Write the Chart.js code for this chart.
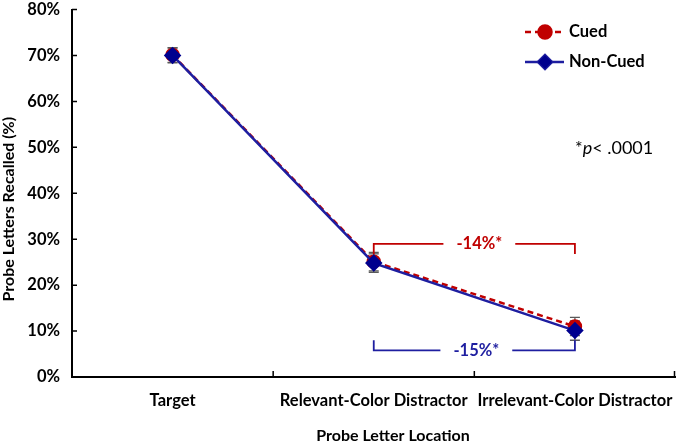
<!DOCTYPE html>
<html lang="en">
<head>
    <meta charset="UTF-8">
    <title>Probe Letters Recalled</title>
    <script src="https://cdn.jsdelivr.net/npm/chart.js"></script>
    <style>
        html, body { margin: 0; padding: 0; background: #fff; overflow: hidden; }
        canvas { display: block; }
    </style>
</head>
<body>
    <canvas id="recallchart" width="685" height="444"></canvas>
    <script>
        // Data
        const categories = ['Target', 'Relevant-Color Distractor', 'Irrelevant-Color Distractor'];
        const cued = [70.1, 25.1, 11.0];
        const nonCued = [70.0, 24.8, 10.1];
        const cuedErr = [1.6, 2.0, 2.0];
        const nonCuedErr = [1.6, 2.0, 2.1];
        const yTicks = [0, 10, 20, 30, 40, 50, 60, 70, 80];

        // difference brackets between category 1 and category 2
        const diffLabels = ['-14%*', '-15%*'];
        const diffLevels = [29.0, 5.8];   // level of the bracket bar (%)
        const diffEnds = [26.8, 8.0];     // where the bracket ends turn to (%)

        const RED = '#C00000';
        const BLUE_LINE = '#1E1EA0';
        const BLUE_MARK = '#00008E';
        const FONT = 'Lato, "Open Sans", sans-serif';

        const overlay = {
            id: 'overlay',
            beforeDatasetsDraw(chart) {
                const ctx = chart.ctx;
                const xs = chart.scales.x, ys = chart.scales.y;
                const area = chart.chartArea;
                ctx.save();

                // inward tick marks
                ctx.strokeStyle = '#000';
                ctx.lineWidth = 1.5;
                ctx.beginPath();
                yTicks.forEach(v => {
                    const py = ys.getPixelForValue(v);
                    ctx.moveTo(area.left, py); ctx.lineTo(area.left + 5, py);
                });
                for (let i = 0; i <= categories.length; i++) {
                    const px = Math.min(xs.getPixelForValue(i - 0.5), area.right - 1);
                    ctx.moveTo(px, area.bottom); ctx.lineTo(px, area.bottom - 6);
                }
                ctx.stroke();

                // error bars
                const sets = [[cued, cuedErr], [nonCued, nonCuedErr]];
                ctx.strokeStyle = '#5a5a5a';
                ctx.lineWidth = 1.3;
                sets.forEach(([vals, errs]) => {
                    vals.forEach((v, i) => {
                        const x = xs.getPixelForValue(i);
                        const t = ys.getPixelForValue(v + errs[i]);
                        const b = ys.getPixelForValue(v - errs[i]);
                        ctx.beginPath();
                        ctx.moveTo(x, t); ctx.lineTo(x, b);
                        ctx.moveTo(x - 5, t); ctx.lineTo(x + 5, t);
                        ctx.moveTo(x - 5, b); ctx.lineTo(x + 5, b);
                        ctx.stroke();
                    });
                });
                ctx.restore();
            },
            afterDraw(chart) {
                const ctx = chart.ctx;
                const xs = chart.scales.x, ys = chart.scales.y;
                const area = chart.chartArea;
                ctx.save();

                // brackets
                const colors = [RED, BLUE_LINE];
                diffLabels.forEach((lab, k) => {
                    const x1 = xs.getPixelForValue(1);
                    const x2 = xs.getPixelForValue(2);
                    const yb = ys.getPixelForValue(diffLevels[k]);
                    const ye = ys.getPixelForValue(diffEnds[k]);
                    const xm = (x1 + x2) / 2 + 5 - 3 * k;
                    ctx.font = 'bold 16.5px ' + FONT;
                    const half = ctx.measureText(lab).width / 2 + 13;
                    ctx.strokeStyle = colors[k];
                    ctx.lineWidth = 1.8;
                    ctx.beginPath();
                    ctx.moveTo(x1, ye); ctx.lineTo(x1, yb); ctx.lineTo(xm - half, yb);
                    ctx.moveTo(xm + half, yb); ctx.lineTo(x2, yb); ctx.lineTo(x2, ye);
                    ctx.stroke();
                    ctx.fillStyle = colors[k];
                    ctx.textAlign = 'center';
                    ctx.textBaseline = 'middle';
                    ctx.fillText(lab, xm, yb);
                });

                // legend
                const items = [
                    { text: 'Cued', color: RED, mark: RED, dash: [6, 4], style: 'circle', r: 6.5, y: 32 },
                    { text: 'Non-Cued', color: BLUE_LINE, mark: BLUE_MARK, dash: [], style: 'rectRot', r: 7, y: 62 }
                ];
                items.forEach(it => {
                    ctx.strokeStyle = it.color;
                    ctx.lineWidth = 2.5;
                    ctx.setLineDash(it.dash);
                    ctx.beginPath();
                    ctx.moveTo(525, it.y); ctx.lineTo(564, it.y);
                    ctx.stroke();
                    ctx.setLineDash([]);
                    Chart.helpers.drawPoint(ctx, { pointStyle: it.style, radius: it.r, borderWidth: 1 }, 545, it.y);
                    ctx.fillStyle = it.mark;
                    ctx.fill();
                    ctx.fillStyle = '#000';
                    ctx.font = 'bold 16.5px ' + FONT;
                    ctx.textAlign = 'left';
                    ctx.textBaseline = 'middle';
                    ctx.fillText(it.text, 569, it.y);
                });

                // significance note
                ctx.fillStyle = '#000';
                ctx.textBaseline = 'middle';
                ctx.textAlign = 'left';
                let x = 575;
                const yN = 148;
                ctx.font = '18px ' + FONT;
                ctx.fillText('*', x, yN); x += ctx.measureText('*').width;
                ctx.font = 'italic 18px ' + FONT;
                ctx.fillText('p', x, yN); x += ctx.measureText('p').width;
                ctx.font = '18px ' + FONT;
                ctx.fillText('< .0001', x, yN);

                // axis titles
                ctx.font = 'bold 16px ' + FONT;
                ctx.textAlign = 'center';
                ctx.fillText('Probe Letter Location', 393, 436);
                ctx.translate(9, (area.top + area.bottom) / 2 + 16);
                ctx.rotate(-Math.PI / 2);
                ctx.fillText('Probe Letters Recalled (%)', 0, 0);

                ctx.restore();
            }
        };

        const ctx = document.getElementById('recallchart').getContext('2d');
        new Chart(ctx, {
            type: 'line',
            data: {
                labels: categories,
                datasets: [{
                    label: 'Cued',
                    data: cued,
                    borderColor: RED,
                    borderWidth: 2.5,
                    borderDash: [6, 4],
                    pointStyle: 'circle',
                    pointRadius: 6,
                    pointBackgroundColor: RED,
                    pointBorderColor: RED,
                    order: 1
                }, {
                    label: 'Non-Cued',
                    data: nonCued,
                    borderColor: BLUE_LINE,
                    borderWidth: 2.5,
                    pointStyle: 'rectRot',
                    pointRadius: 7,
                    pointBackgroundColor: BLUE_MARK,
                    pointBorderColor: BLUE_MARK,
                    order: 0
                }]
            },
            options: {
                responsive: false,
                animation: false,
                layout: { padding: { left: 0, top: 7, right: 2, bottom: 0 } },
                plugins: {
                    legend: { display: false },
                    tooltip: { enabled: false }
                },
                scales: {
                    x: {
                        type: 'category',
                        offset: true,
                        grid: { display: false, drawTicks: false },
                        border: { color: '#000', width: 2 },
                        ticks: { color: '#000', font: { family: FONT, size: 16.5, weight: 'bold' }, padding: 14, maxRotation: 0, autoSkip: false },
                        afterFit: s => { s.height = 67; s.paddingLeft = 0; s.paddingRight = 0; }
                    },
                    y: {
                        min: 0,
                        max: 80,
                        afterBuildTicks: s => { s.ticks = yTicks.map(v => ({ value: v })); },
                        grid: { display: false, drawTicks: false },
                        border: { color: '#000', width: 2 },
                        ticks: { color: '#000', font: { family: FONT, size: 16.5, weight: 'bold' }, padding: 12, callback: v => v + '%' },
                        afterFit: s => { s.width = 72; s.paddingTop = 0; s.paddingBottom = 0; }
                    }
                }
            },
            plugins: [overlay]
        });
    </script>
</body>
</html>
